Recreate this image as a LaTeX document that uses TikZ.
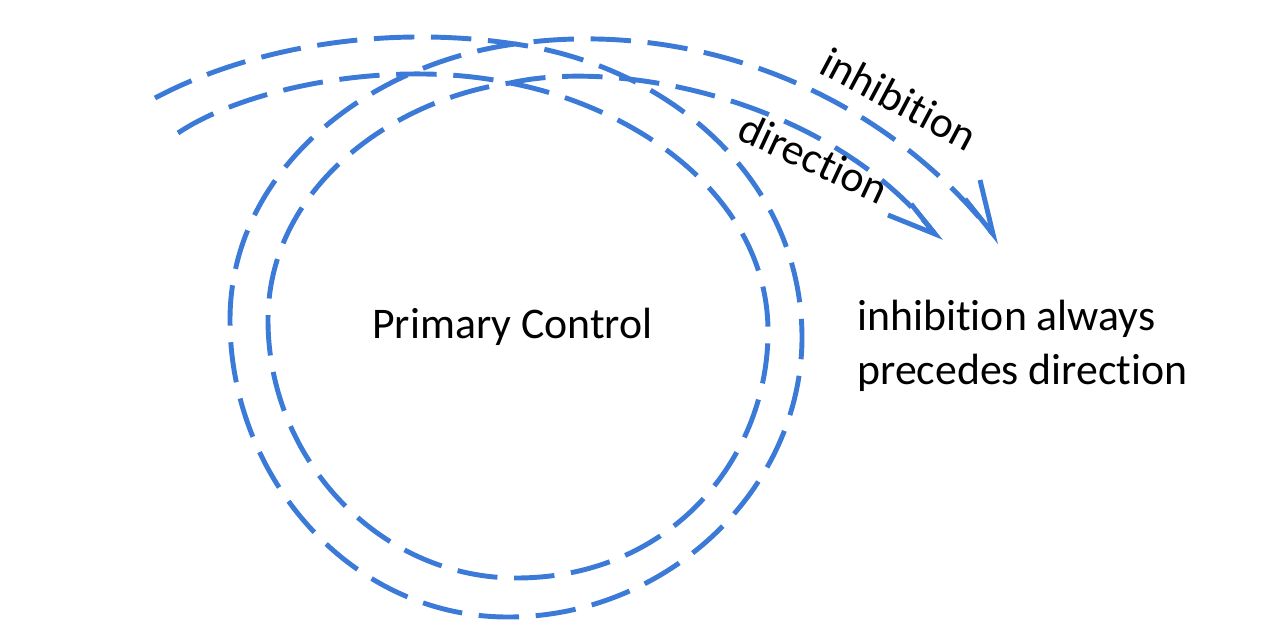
\documentclass[tikz,border=0pt]{standalone}
\usepackage{fontspec}
\setmainfont{Carlito}[Ligatures={NoCommon,NoContextual}]
\definecolor{arrowblue}{RGB}{60,122,216}
\begin{document}
\begin{tikzpicture}[x=0.02cm,y=-0.02cm,
  flow/.style={draw=arrowblue, line width=2.8pt, dash pattern=on 23pt off 9.5pt},
  barb/.style={draw=arrowblue, line width=2.8pt},
  lbl/.style={font=\fontsize{24.9}{30.2}\selectfont, inner sep=0pt}]
\useasboundingbox (0,0) rectangle (1280,640);
% end points of the two curled arrows
\coordinate (inhStart) at (155,98);
\coordinate (inhTip) at (993,234);
\coordinate (inhBarbA) at (965,199);
\coordinate (inhBarbB) at (980,180);
\coordinate (dirStart) at (178,133);
\coordinate (dirTip) at (935,234);
\coordinate (dirBarbA) at (911,204);
\coordinate (dirBarbB) at (888,215);
% outer curl: inhibition
\draw[flow] (inhStart) .. controls (255,45) and (390,25) .. (515,44)
  .. controls (670,66) and (803,180) .. (802,340)
  .. controls (800,492) and (665,617) .. (508,617)
  .. controls (351,617) and (230,478) .. (230,320)
  .. controls (230,170) and (368,64) .. (515,44)
  .. controls (680,20) and (870,80) .. (inhTip);
\draw[barb] (inhBarbA) -- (inhTip) -- (inhBarbB);
% inner curl: direction
\draw[flow] (dirStart) .. controls (245,88) and (390,58) .. (510,83)
  .. controls (640,108) and (770,200) .. (768,335)
  .. controls (766,460) and (670,578) .. (516,578)
  .. controls (380,578) and (268,460) .. (268,320)
  .. controls (268,190) and (390,100) .. (510,83)
  .. controls (620,58) and (830,100) .. (dirTip);
\draw[barb] (dirBarbA) -- (dirTip) -- (dirBarbB);
% labels
\node[lbl, anchor=base west] (pc) at (372,338) {Primary Control};
\node[lbl, anchor=base west, rotate=-28] (inh) at (817,72) {inhibition};
\node[lbl, anchor=base west, rotate=-25] (dir) at (735,138) {direction};
\node[lbl, anchor=base west, align=left] (note) at (857,384) {inhibition always\\precedes direction};
\end{tikzpicture}
\end{document}
